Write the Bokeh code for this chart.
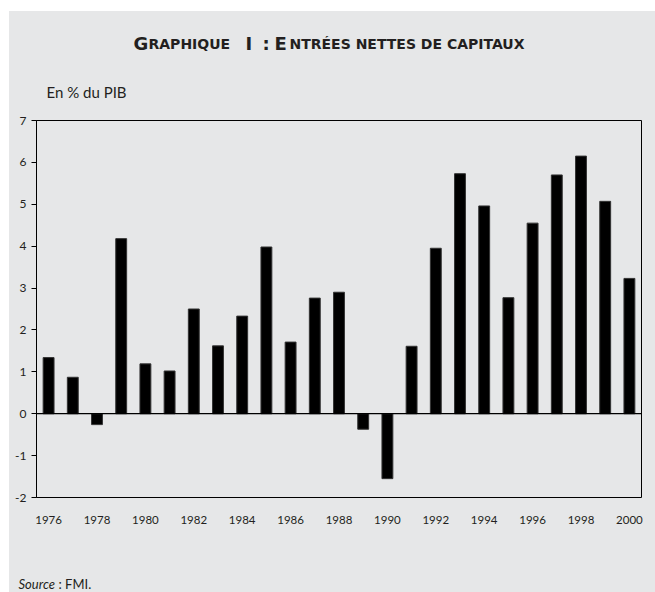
from bokeh.plotting import figure
from bokeh.models import Span, FixedTicker, PrintfTickFormatter, Spacer
from bokeh.layouts import column, row
from bokeh.core.properties import value
from bokeh.embed import file_html
from bokeh.resources import INLINE

# ---- data ----
years = [1976, 1977, 1978, 1979, 1980, 1981, 1982, 1983, 1984, 1985, 1986, 1987,
         1988, 1989, 1990, 1991, 1992, 1993, 1994, 1995, 1996, 1997, 1998, 1999, 2000]
values = [1.34, 0.87, -0.26, 4.18, 1.19, 1.02, 2.50, 1.62, 2.33, 3.98, 1.71, 2.76,
          2.90, -0.37, -1.55, 1.61, 3.95, 5.73, 4.96, 2.77, 4.55, 5.70, 6.15, 5.07, 3.23]
x_ticks = [1976, 1978, 1980, 1982, 1984, 1986, 1988, 1990, 1992, 1994, 1996, 1998, 2000]
y_ticks = [-2, -1, 0, 1, 2, 3, 4, 5, 6, 7]
title_pieces = ["G", "RAPHIQUE", "I", ":", "E", "NTRÉES NETTES DE CAPITAUX"]
unit_label = "En % du PIB"
source_label = ["Source", ": FMI."]

BG = "#e6e7e8"
INK = "#231f20"
FONT = "Lato"
TFONT = "DejaVu Sans"
W = 646
LX = 9  # left offset of the grey panel on the page

def text_panel(h):
    f = figure(width=W, height=h, x_range=(0, W), y_range=(h, 0),
               x_axis_type=None, y_axis_type=None,
               output_backend="svg", toolbar_location=None,
               min_border=0, min_border_left=0, min_border_right=0,
               min_border_top=0, min_border_bottom=0,
               background_fill_color=BG, border_fill_color=BG,
               outline_line_color=None, frame_align=False)
    f.xgrid.visible = False
    f.ygrid.visible = False
    return f

def put(f, txt, x, y, size, font=FONT, style="normal"):
    f.text(x=[x], y=[y], text=[txt], text_font=value(font), text_font_size=value(size),
           text_font_style=style, text_color=INK, text_baseline="alphabetic", text_align="left")

# ---- header (title + unit) ----
head = text_panel(100)
BIG, SMALL = "18px", "14px"
title_sizes = [BIG, SMALL, BIG, BIG, BIG, SMALL]
title_px = [133, 148, 245, 262, 274, 289]   # page x of each piece
for txt, sz, px in zip(title_pieces, title_sizes, title_px):
    put(head, txt, px - LX, 32, sz, font=TFONT, style="bold")
put(head, unit_label, 46 - LX, 80, "15px")

# ---- main chart ----
X0, X1 = 1975.5, 2000.5
Y0, Y1 = -2, 7
p = figure(width=W, height=429, x_range=(X0, X1), y_range=(Y0, Y1),
           output_backend="svg", toolbar_location=None,
           min_border_left=27, min_border_right=14, min_border_top=9, min_border_bottom=43,
           background_fill_color=BG, border_fill_color=BG,
           outline_line_color="black", outline_line_width=1, frame_align=False)
p.xgrid.visible = False
p.ygrid.visible = False

p.vbar(x=years, top=values, bottom=0, width=0.45, fill_color="black", line_color="#333333", line_width=1)
p.add_layout(Span(location=0, dimension="width", line_color="black", line_width=1.3))

p.yaxis.ticker = FixedTicker(ticks=y_ticks)
p.yaxis.formatter = PrintfTickFormatter(format="%d")
p.yaxis.major_tick_out = 5
p.yaxis.major_tick_in = 0
p.yaxis.minor_tick_out = 0
p.yaxis.minor_tick_in = 0
p.yaxis.major_label_standoff = 5
p.yaxis.axis_line_color = "black"
p.yaxis.major_tick_line_color = "black"
p.yaxis.major_label_text_font = FONT
p.yaxis.major_label_text_font_size = "12px"
p.yaxis.major_label_text_color = INK

p.xaxis.ticker = FixedTicker(ticks=x_ticks)
p.xaxis.formatter = PrintfTickFormatter(format="%d")
p.xaxis.major_tick_out = 0
p.xaxis.major_tick_in = 0
p.xaxis.minor_tick_out = 0
p.xaxis.minor_tick_in = 0
p.xaxis.axis_line_color = None
p.xaxis.major_label_standoff = 18
p.xaxis.major_label_text_font = FONT
p.xaxis.major_label_text_font_size = "11.5px"
p.xaxis.major_label_text_color = INK

# ---- footer (source) ----
foot = text_panel(52)
put(foot, source_label[0], 18 - LX, 43, "13px", style="italic")
put(foot, source_label[1], 58 - LX, 43, "13px")

panel = column(head, p, foot, styles={"background-color": BG})
layout = row(Spacer(width=LX, height=592), column(Spacer(width=W, height=11), panel))
open("out.html", "w").write(file_html(layout, INLINE))
